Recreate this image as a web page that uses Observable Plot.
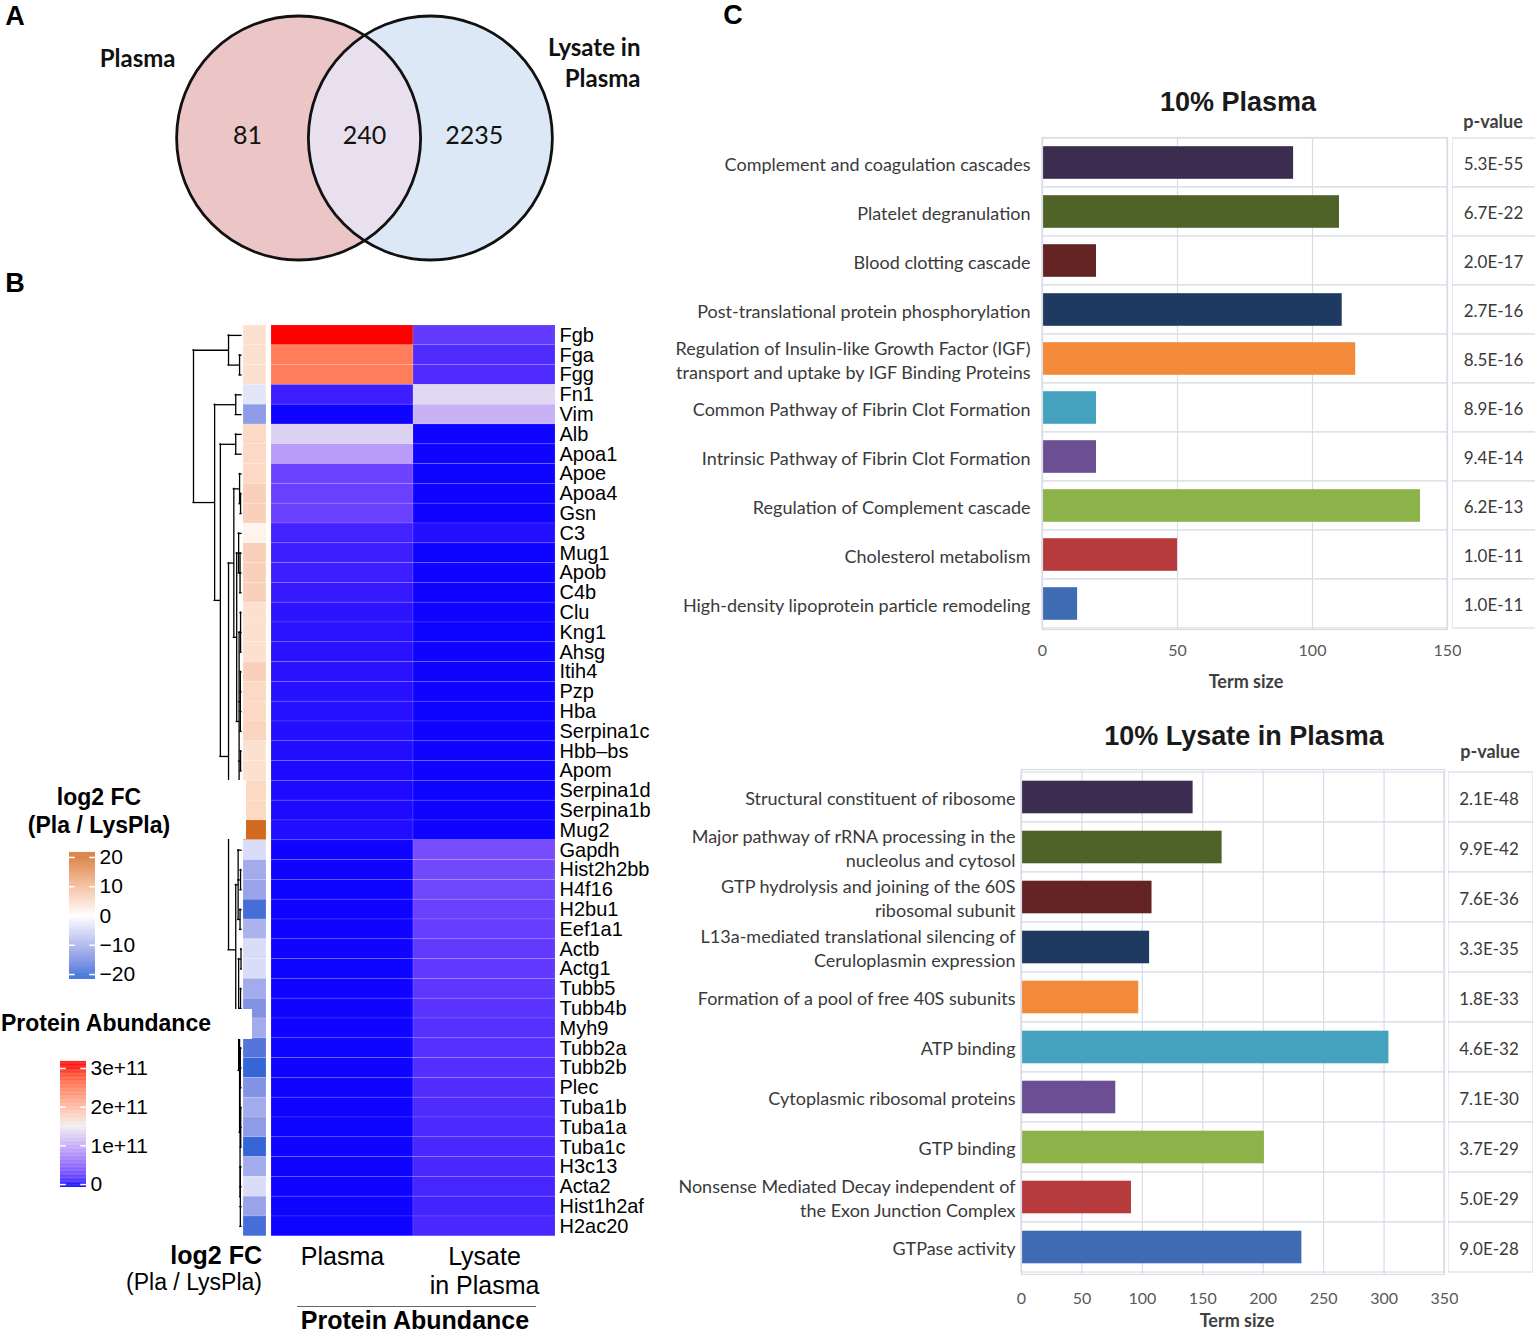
<!DOCTYPE html>
<html><head><meta charset="utf-8">
<script src="https://cdn.jsdelivr.net/npm/d3@7"></script>
<script src="https://cdn.jsdelivr.net/npm/@observablehq/plot@0.6"></script>
<style>
body{margin:0;background:#fff;}
#fig{position:relative;width:1535px;height:1333px;overflow:hidden;background:#fff;}
.t{position:absolute;white-space:pre;}
</style></head><body><div id="fig"></div>
<script>
// ---------------- DATA ----------------
const vennSets = ["Plasma", "Lysate in\nPlasma"];
const vennCounts = [81, 240, 2235]; // Plasma only, shared, Lysate in Plasma only

const genes = ["Fgb","Fga","Fgg","Fn1","Vim","Alb","Apoa1","Apoe","Apoa4","Gsn","C3","Mug1","Apob","C4b","Clu","Kng1","Ahsg","Itih4","Pzp","Hba","Serpina1c","Hbb\u2013bs","Apom","Serpina1d","Serpina1b","Mug2","Gapdh","Hist2h2bb","H4f16","H2bu1","Eef1a1","Actb","Actg1","Tubb5","Tubb4b","Myh9","Tubb2a","Tubb2b","Plec","Tuba1b","Tuba1a","Tuba1c","H3c13","Acta2","Hist1h2af","H2ac20"];
const plasmaAbundance = [3.0e11,2.45e11,2.45e11,0.1e11,0.01e11,1.3e11,0.93e11,0.32e11,0.3e11,0.3e11,0.12e11,0.1e11,0.1e11,0.08e11,0.06e11,0.055e11,0.05e11,0.05e11,0.045e11,0.045e11,0.04e11,0.035e11,0.03e11,0.03e11,0.03e11,0.035e11,0.01e11,0.01e11,0.01e11,0.01e11,0.01e11,0.01e11,0.01e11,0.01e11,0.01e11,0.01e11,0.01e11,0.01e11,0.01e11,0.01e11,0.01e11,0.01e11,0.01e11,0.01e11,0.01e11,0.01e11];
const lysateAbundance = [0.27e11,0.17e11,0.17e11,1.35e11,1.08e11,0.01e11,0.01e11,0.01e11,0.01e11,0.01e11,0.04e11,0.01e11,0.01e11,0.01e11,0.01e11,0.01e11,0.01e11,0.01e11,0.01e11,0.01e11,0.01e11,0.01e11,0.01e11,0.01e11,0.01e11,0.01e11,0.38e11,0.36e11,0.34e11,0.3e11,0.28e11,0.26e11,0.25e11,0.24e11,0.22e11,0.2e11,0.2e11,0.19e11,0.18e11,0.17e11,0.16e11,0.15e11,0.15e11,0.14e11,0.13e11,0.15e11];
const log2FC = [4,4,4,-3,-12,5,5,5,6,6,1.5,6,6,6,4,4,4,6,5,5,5.5,4,4,5,5,20,-4,-10,-11,-18,-9,-4,-4,-10,-13,-10,-17,-19,-13,-10,-12,-19,-10,-4,-11,-18];
// dendrogram: [mergeHeight, ...children]; leaves are gene names
const dendrogram = [50,
  [13.5, "Fgb", [2, "Fga", "Fgg"]],
  [28,
    [6, "Fn1", "Vim"],
    [22,
      [6, "Alb", "Apoa1"],
      [13.5,
        [8,
          [2, "Apoe", [1, "Apoa4", "Gsn"]],
          [5,
            [3, "C3", [1.5, "Mug1", "Apob", "C4b"]],
            [2.5, [1, "Clu", "Kng1", "Ahsg"], [1.2, "Itih4", "Pzp", "Hba", "Serpina1c"], [1, "Hbb\u2013bs", "Apom"], [1.5, "Serpina1d", "Serpina1b", "Mug2"]]
          ]
        ],
        [6,
          [3.5, "Gapdh", [1, "Hist2h2bb", "H4f16"], [1.5, "H2bu1", "Eef1a1"]],
          [3, [0.5, "Actb", "Actg1"],
             [2, [1, "Tubb5", "Tubb4b", "Myh9"],
                 [1.5, [1.2, "Tubb2a", "Tubb2b", "Plec"], [0.8, "Tuba1b", "Tuba1a", "Tuba1c"], [1.2, "H3c13", "Acta2", "Hist1h2af", "H2ac20"]]]]
        ]
      ]
    ]
  ]
];
const heatColumns = ["Plasma", "Lysate\nin Plasma"];
const fcTicks = [20, 10, 0, -10, -20];
const fcTickLabels = ["20", "10", "0", "\u221210", "\u221220"];
const abundanceTicks = [3e11, 2e11, 1e11, 0];
const abundanceTickLabels = ["3e+11", "2e+11", "1e+11", "0"];

const plasmaTerms = ["Complement and coagulation cascades","Platelet degranulation","Blood clotting cascade","Post-translational protein phosphorylation","Regulation of Insulin-like Growth Factor (IGF)\ntransport and uptake by IGF Binding Proteins","Common Pathway of Fibrin Clot Formation","Intrinsic Pathway of Fibrin Clot Formation","Regulation of Complement cascade","Cholesterol metabolism","High-density lipoprotein particle remodeling"];
const plasmaTermSize = [93, 110, 20, 111, 116, 20, 20, 140, 50, 13];
const plasmaPValues = ["5.3E-55","6.7E-22","2.0E-17","2.7E-16","8.5E-16","8.9E-16","9.4E-14","6.2E-13","1.0E-11","1.0E-11"];
const plasmaTicks = [0, 50, 100, 150];

const lysateTerms = ["Structural constituent of ribosome","Major pathway of rRNA processing in the\nnucleolus and cytosol","GTP hydrolysis and joining of the 60S\nribosomal subunit","L13a-mediated translational silencing of\nCeruloplasmin expression","Formation of a pool of free 40S subunits","ATP binding","Cytoplasmic ribosomal proteins","GTP binding","Nonsense Mediated Decay independent of\nthe Exon Junction Complex","GTPase activity"];
const lysateTermSize = [142, 166, 108, 106, 97, 304, 78, 201, 91, 232];
const lysatePValues = ["2.1E-48","9.9E-42","7.6E-36","3.3E-35","1.8E-33","4.6E-32","7.1E-30","3.7E-29","5.0E-29","9.0E-28"];
const lysateTicks = [0, 50, 100, 150, 200, 250, 300, 350];

const termColors = ["#3C2C4F","#4F6228","#632423","#1F3A60","#F38A3A","#45A2BE","#6C4F92","#8CB34A","#B73B3D","#3F6BB3"];

// ---------------- HELPERS ----------------
const fig = document.getElementById("fig");
function place(svg, left, top) {
  svg.style.position = "absolute";
  svg.style.left = left + "px";
  svg.style.top = top + "px";
  svg.style.background = "transparent";
  svg.style.maxWidth = "none";
  fig.append(svg);
  return svg;
}
function addText(txt, x, y, o = {}) {
  const d = document.createElement("div");
  d.className = "t";
  d.textContent = txt;
  const size = o.size || 16;
  d.style.left = x + "px";
  d.style.top = y + "px";
  d.style.fontSize = size + "px";
  d.style.fontWeight = o.weight || 400;
  d.style.fontFamily = o.family || "Lato";
  d.style.color = o.color || "#000";
  d.style.lineHeight = (o.lh || 1.2);
  d.style.textAlign = o.anchor === "end" ? "right" : o.anchor === "start" ? "left" : "center";
  const tx = o.anchor === "end" ? "-100%" : o.anchor === "start" ? "0" : "-50%";
  d.style.transform = `translate(${tx}, -50%)`;
  fig.append(d);
  return d;
}
function addBox(x, y, w, h) {
  const d = document.createElement("div");
  Object.assign(d.style, {position: "absolute", left: x + "px", top: y + "px", width: w + "px", height: h + "px", background: "#fff"});
  fig.append(d);
}

// ---------------- PANEL A: Venn ----------------
{
  const R = 122, cx = 364, cy = 137.5, W = 660, H = 270;
  const cL = -0.54, cR = 0.54;
  const circles = [{x: cL}, {x: cR}];
  const countX = [-0.96, 0, 0.9];
  // lens (shared region) outline from the two unit circles
  const lensX = [...d3.range(cR - 1, cL + 1, 0.004), cL + 1];
  const half = x => Math.min(Math.sqrt(Math.max(0, 1 - (x - cL) ** 2)), Math.sqrt(Math.max(0, 1 - (x - cR) ** 2)));
  const venn = Plot.plot({
    width: W, height: H, margin: 0,
    x: {domain: [-cx / R, (W - cx) / R], axis: null},
    y: {domain: [-(H - cy) / R, cy / R], axis: null},
    style: {fontFamily: "Lato", background: "transparent"},
    marks: [
      Plot.dot([circles[0]], {x: "x", y: 0, r: R, fill: "#ECC5C7"}),
      Plot.dot([circles[1]], {x: "x", y: 0, r: R, fill: "#DCE8F5"}),
      Plot.areaY(lensX, {x: d => d, y1: d => -half(d), y2: d => half(d), fill: "#E8E0EE", curve: "linear"}),
      Plot.dot(circles, {x: "x", y: 0, r: R, fill: "none", stroke: "#111", strokeWidth: 2.8}),
      Plot.text(vennCounts, {x: (d, i) => countX[i], y: 0.02, text: d => String(d), fontSize: 25, fill: "#111"}),
      Plot.text([vennSets[0]], {x: -1.86, y: 0.643, text: d => d, fontSize: 24, fontWeight: "bold", fill: "#111"}),
      Plot.text([vennSets[1]], {x: 2.262, y: 0.63, text: d => d, fontSize: 24, fontWeight: "bold", textAnchor: "end", lineHeight: 1.3, fill: "#111"})
    ]
  });
  place(venn, 0, 0);
}

// ---------------- PANEL B: heatmap ----------------
const heatTop = 325, rowH = 19.8, heatH = rowH * genes.length;
const abundanceColor = {type: "linear", domain: [0, 1.5e11, 3e11], range: ["#0000FF", "#EEEEEE", "#FF0000"], interpolate: "lab", clamp: true};
const fcColor = {type: "linear", domain: [-20, 0, 20], range: ["#1F5FD3", "#FFFFFF", "#D2691E"], interpolate: "lab", clamp: true};

// dendrogram layout from tree
const segV = [], segH = [];
function layoutTree(node) {
  if (typeof node === "string") return {y: genes.indexOf(node), h: 0};
  const [h, ...kids] = node;
  const ks = kids.map(layoutTree);
  const y1 = ks[0].y, y2 = ks[ks.length - 1].y;
  segV.push({h, y1, y2});
  ks.forEach(k => segH.push({y: k.y, x1: h, x2: k.h}));
  return {y: (y1 + y2) / 2, h};
}
layoutTree(dendrogram);
{
  const dend = Plot.plot({
    width: 53, height: heatH, marginLeft: 3, marginRight: 2, marginTop: 0, marginBottom: 0,
    x: {domain: [50, 0], axis: null},
    y: {domain: [genes.length - 0.5, -0.5], axis: null},
    marks: [
      Plot.ruleX(segV, {x: "h", y1: "y1", y2: "y2", stroke: "#000", strokeWidth: 1.3, strokeLinecap: "square"}),
      Plot.ruleY(segH, {y: "y", x1: "x1", x2: "x2", stroke: "#000", strokeWidth: 1.3, strokeLinecap: "square"})
    ]
  });
  place(dend, 190, heatTop);
}
{
  const ann = Plot.plot({
    width: 23, height: heatH, margin: 0,
    x: {axis: null, padding: 0},
    y: {domain: genes, axis: null, padding: 0},
    color: fcColor,
    marks: [
      Plot.cell(genes, {x: () => "fc", y: d => d, fill: (d, i) => log2FC[i], inset: 0, stroke: "white", strokeOpacity: 0.25, strokeWidth: 0.6})
    ]
  });
  place(ann, 243, heatTop);
}
{
  const heatData = genes.flatMap((g, i) => [
    {gene: g, col: heatColumns[0], value: plasmaAbundance[i]},
    {gene: g, col: heatColumns[1], value: lysateAbundance[i]}
  ]);
  const heat = Plot.plot({
    width: 284 + 100, height: heatH + 80,
    marginLeft: 0, marginRight: 100, marginTop: 0, marginBottom: 80,
    x: {domain: heatColumns, padding: 0, axis: null},
    y: {domain: genes, padding: 0, axis: null},
    color: abundanceColor,
    style: {fontFamily: "Liberation Sans, Arial, sans-serif", fontSize: "20px", color: "#000", background: "transparent"},
    marks: [
      Plot.cell(heatData, {x: "col", y: "gene", fill: "value", inset: 0, stroke: "white", strokeOpacity: 0.18, strokeWidth: 0.7}),
      Plot.axisY({anchor: "right", tickSize: 0, tickPadding: 4, fontSize: 20, fill: "#000", label: null}),
      Plot.axisX({anchor: "bottom", tickSize: 0, tickPadding: 8, fontSize: 25, lineHeight: 1.16, fill: "#000", label: null})
    ]
  });
  place(heat, 271, heatTop);
}
// bottom annotation texts of panel B
addText("log2 FC", 262, 1255, {anchor: "end", size: 25, weight: 700, family: "Liberation Sans"});
addText("(Pla / LysPla)", 262, 1283, {anchor: "end", size: 23, family: "Liberation Sans"});
{
  const ln = document.createElement("div");
  Object.assign(ln.style, {position: "absolute", left: "297px", top: "1306px", width: "239px", height: "0", borderTop: "1.5px solid #666"});
  fig.append(ln);
}
addText("Protein Abundance", 415, 1320, {size: 25, weight: 700, family: "Liberation Sans"});

// legend 1: log2 FC
addBox(0, 780, 246, 59);
addText("log2 FC\n(Pla / LysPla)", 99, 811, {size: 23, weight: 700, family: "Liberation Sans", lh: 1.22});
{
  const steps = d3.range(-21.7, 21.7, 0.2).map(v => ({a: v, b: v + 0.22}));
  const leg = Plot.plot({
    width: 100, height: 127 + 30, marginLeft: 9, marginRight: 65, marginTop: 15, marginBottom: 15,
    x: {domain: [0, 1], axis: null},
    y: {domain: [-21.7, 21.7], axis: null},
    color: fcColor,
    style: {fontFamily: "Liberation Sans, Arial, sans-serif", background: "transparent"},
    marks: [
      Plot.rect(steps, {x1: 0, x2: 1, y1: "a", y2: "b", fill: d => (d.a + d.b) / 2}),
      Plot.ruleY(fcTicks, {y: d => d, x1: 0, x2: 0.22, stroke: "white", strokeWidth: 1.5}),
      Plot.ruleY(fcTicks, {y: d => d, x1: 0.78, x2: 1, stroke: "white", strokeWidth: 1.5}),
      Plot.text(fcTicks, {x: 1, y: d => d, text: (d, i) => fcTickLabels[i], dx: 4, textAnchor: "start", fontSize: 21, fill: "#000"})
    ]
  });
  place(leg, 60, 837);
}
// legend 2: protein abundance
addBox(0, 1009, 252, 30);
addText("Protein Abundance", 106, 1024, {size: 23, weight: 700, family: "Liberation Sans"});
{
  const lo = -0.077e11, hi = 3.18e11;
  const steps = d3.range(0, 160).map(k => ({a: lo + (hi - lo) * k / 160, b: lo + (hi - lo) * (k + 1.1) / 160}));
  const leg = Plot.plot({
    width: 110, height: 126 + 30, marginLeft: 9, marginRight: 75, marginTop: 15, marginBottom: 15,
    x: {domain: [0, 1], axis: null},
    y: {domain: [lo, hi], axis: null},
    color: abundanceColor,
    style: {fontFamily: "Liberation Sans, Arial, sans-serif", background: "transparent"},
    marks: [
      Plot.rect(steps, {x1: 0, x2: 1, y1: "a", y2: "b", fill: d => Math.min(hi, (d.a + d.b) / 2)}),
      Plot.ruleY(abundanceTicks, {y: d => d, x1: 0, x2: 0.22, stroke: "white", strokeWidth: 1.5}),
      Plot.ruleY(abundanceTicks, {y: d => d, x1: 0.78, x2: 1, stroke: "white", strokeWidth: 1.5}),
      Plot.text(abundanceTicks, {x: 1, y: d => d, text: (d, i) => abundanceTickLabels[i], dx: 4, textAnchor: "start", fontSize: 21, fill: "#000"})
    ]
  });
  place(leg, 51, 1046);
}

// ---------------- PANEL C: enrichment bar charts ----------------
const gridColor = "#D9DCE6";
function termChart({terms, sizes, pvals, ticks, xmax, left, frameLeft, frameRight, frameTop, rowHeight, inset, labelGap, tickPad, tableLeft, tableWidth}) {
  const mt = 10, mb = 45;
  const ml = frameLeft - left, plotW = frameRight - frameLeft, mr = 14;
  const data = terms.map((t, i) => ({term: t, size: sizes[i], color: termColors[i], p: pvals[i]}));
  const h = mt + rowHeight * terms.length + mb;
  const chart = Plot.plot({
    width: ml + plotW + mr, height: h,
    marginLeft: ml, marginRight: mr, marginTop: mt, marginBottom: mb,
    x: {domain: [0, xmax], axis: null},
    y: {domain: terms, padding: 0, axis: null},
    style: {fontFamily: "Lato, sans-serif", color: "#595959", background: "transparent"},
    marks: [
      Plot.barX(data, {x1: 0, x2: xmax, y: "term", fill: "white", stroke: gridColor, strokeWidth: 1.2}),
      Plot.ruleX(ticks, {x: d => d, stroke: gridColor, strokeWidth: 1.2}),
      Plot.barX(data, {x: "size", y: "term", fill: "color", insetTop: inset, insetBottom: inset}),
      Plot.frame({stroke: gridColor, strokeWidth: 1.2}),
      Plot.text(data, {y: "term", text: "term", frameAnchor: "left", dx: -labelGap, textAnchor: "end", lineHeight: 1.35, fontSize: 18, fill: "#3a3a3a"}),
      Plot.axisX({ticks, tickSize: 0, tickPadding: tickPad, fontSize: 16, fill: "#595959", label: null})
    ]
  });
  place(chart, left, frameTop - mt);
  const table = Plot.plot({
    width: tableWidth, height: h, marginLeft: 0, marginRight: 0, marginTop: mt, marginBottom: mb,
    x: {domain: [0, 1], axis: null},
    y: {domain: terms, padding: 0, axis: null},
    style: {fontFamily: "Lato, sans-serif", background: "transparent"},
    marks: [
      Plot.barX(data, {x1: 0, x2: 1, y: "term", fill: "white", stroke: gridColor, strokeWidth: 1.2}),
      Plot.text(data, {y: "term", text: "p", dy: 2, dx: -2, fontSize: 17, fill: "#3a3a3a"})
    ]
  });
  place(table, tableLeft, frameTop - mt);
}
termChart({terms: plasmaTerms, sizes: plasmaTermSize, pvals: plasmaPValues, ticks: plasmaTicks, xmax: 150,
  left: 620, frameLeft: 1042, frameRight: 1447, frameTop: 137, rowHeight: 49.2, inset: 8.2, labelGap: 12, tickPad: 15,
  tableLeft: 1452, tableWidth: 86});
termChart({terms: lysateTerms, sizes: lysateTermSize, pvals: lysatePValues, ticks: lysateTicks, xmax: 350,
  left: 620, frameLeft: 1021, frameRight: 1444, frameTop: 769, rowHeight: 50.5, inset: 8.7, labelGap: 6, tickPad: 18,
  tableLeft: 1448, tableWidth: 85});

addText("10% Plasma", 1238, 102, {size: 27, weight: 700, family: "Liberation Sans", color: "#1a1a1a"});
addText("10% Lysate in Plasma", 1244, 736, {size: 27, weight: 700, family: "Liberation Sans", color: "#1a1a1a"});
addText("p-value", 1493, 122, {size: 18, weight: 700, color: "#404040"});
addText("p-value", 1490, 752, {size: 18, weight: 700, color: "#404040"});
addText("Term size", 1246, 682, {size: 18, weight: 700, color: "#404040"});
addText("Term size", 1237, 1321, {size: 18, weight: 700, color: "#404040"});

// panel letters
addText("A", 15, 16, {size: 27, weight: 700, family: "Liberation Sans", anchor: "middle"});
addText("B", 15, 283, {size: 27, weight: 700, family: "Liberation Sans", anchor: "middle"});
addText("C", 733, 15, {size: 27, weight: 700, family: "Liberation Sans", anchor: "middle"});
</script></body></html>
